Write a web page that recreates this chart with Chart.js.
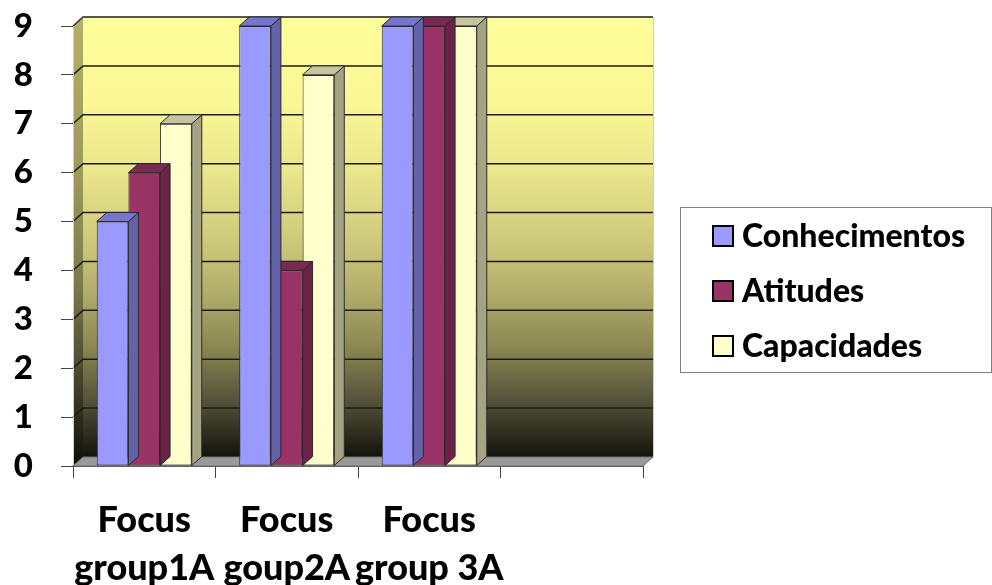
<!DOCTYPE html>
<html>
<head>
<meta charset="utf-8">
<script src="https://cdn.jsdelivr.net/npm/chart.js@4.4.1/dist/chart.umd.min.js"></script>
<style>
  html, body { margin: 0; padding: 0; background: #ffffff; }
  #wrap { width: 992px; height: 585px; }
</style>
</head>
<body>
<div id="wrap"><canvas id="c" width="992" height="585"></canvas></div>
<script>
// Categories (the fourth slot is intentionally empty)
const categories = [['Focus', 'group1A'], ['Focus', 'goup2A'], ['Focus', 'group 3A'], ''];
const seriesNames = ['Conhecimentos', 'Atitudes', 'Capacidades'];
const conhecimentos = [5, 9, 9, null];
const atitudes = [6, 4, 9, null];
const capacidades = [7, 8, 9, null];
const yTickValues = [0, 1, 2, 3, 4, 5, 6, 7, 8, 9];

// Face colours for the pseudo-3D columns: front, top, side
const faceColors = [
  { front: '#9999FF', top: '#7676CC', side: '#6262A6' },
  { front: '#993366', top: '#7A2952', side: '#6B2448' },
  { front: '#FFFFCC', top: '#C4C4A0', side: '#A4A482' }
];

// Depth offset of the 3D box
const DX = 10;
const DY = -9;
const FONT = 'Lato, "Open Sans", "DejaVu Sans", sans-serif';
const WEIGHT = 900;

function poly(ctx, pts, fill, stroke, lw) {
  ctx.beginPath();
  ctx.moveTo(pts[0][0], pts[0][1]);
  for (let i = 1; i < pts.length; i++) ctx.lineTo(pts[i][0], pts[i][1]);
  ctx.closePath();
  if (fill) { ctx.fillStyle = fill; ctx.fill(); }
  if (stroke) { ctx.strokeStyle = stroke; ctx.lineWidth = lw || 1; ctx.stroke(); }
}

// Back wall, side wall, floor and wall gridlines
const wallsPlugin = {
  id: 'walls',
  beforeDatasetsDraw(chart) {
    const ctx = chart.ctx;
    const xs = chart.scales.x, ys = chart.scales.y;
    const L = xs.left, R = xs.right;
    const yTop = ys.getPixelForValue(ys.max);
    const yBot = ys.getPixelForValue(ys.min);
    ctx.save();

    // back wall
    const g = ctx.createLinearGradient(0, yTop + DY, 0, yBot + DY);
    g.addColorStop(0.0, '#FEFE9A');
    g.addColorStop(0.2, '#F9F794');
    g.addColorStop(0.35, '#E9E68C');
    g.addColorStop(0.5, '#CFCB7C');
    g.addColorStop(0.62, '#B3AF6C');
    g.addColorStop(0.75, '#8A8753');
    g.addColorStop(0.87, '#55533A');
    g.addColorStop(1.0, '#14130C');
    ctx.fillStyle = g;
    ctx.fillRect(L + DX, yTop + DY, R - L, yBot - yTop);

    // side wall
    const g2 = ctx.createLinearGradient(0, yTop, 0, yBot);
    g2.addColorStop(0.0, '#B2AF6C');
    g2.addColorStop(0.35, '#9C9959');
    g2.addColorStop(0.6, '#7A774A');
    g2.addColorStop(0.8, '#46452C');
    g2.addColorStop(1.0, '#0E0E08');
    poly(ctx, [[L, yBot], [L, yTop], [L + DX, yTop + DY], [L + DX, yBot + DY]], g2);

    // gridlines on both walls
    ctx.strokeStyle = '#1C1C14';
    ctx.lineWidth = 1.5;
    yTickValues.forEach(v => {
      const y = ys.getPixelForValue(v);
      ctx.beginPath();
      ctx.moveTo(L, y);
      ctx.lineTo(L + DX, y + DY);
      ctx.lineTo(R + DX, y + DY);
      ctx.stroke();
    });

    // wall edges
    ctx.strokeStyle = '#D8D67A';
    ctx.lineWidth = 1;
    ctx.beginPath();
    ctx.moveTo(R + DX + 0.5, yTop + DY);
    ctx.lineTo(R + DX + 0.5, yBot + DY);
    ctx.moveTo(L + 0.5, yTop);
    ctx.lineTo(L + 0.5, yBot);
    ctx.stroke();
    ctx.strokeStyle = '#555555';
    ctx.beginPath();
    ctx.moveTo(L, yTop);
    ctx.lineTo(L + DX, yTop + DY);
    ctx.lineTo(R + DX, yTop + DY);
    ctx.stroke();

    // floor
    poly(ctx, [[L, yBot], [R, yBot], [R + DX, yBot + DY], [L + DX, yBot + DY]], '#9A9A9A', '#6E6E6E', 1);
    ctx.restore();
  }
};

// Top and side faces for each column
const depthPlugin = {
  id: 'depth',
  afterDatasetDraw(chart, args) {
    const ctx = chart.ctx;
    const meta = args.meta;
    const c = faceColors[args.index];
    ctx.save();
    meta.data.forEach((bar, i) => {
      const v = chart.data.datasets[args.index].data[i];
      if (v === null || v === undefined) return;
      const p = bar.getProps(['x', 'y', 'base', 'width'], true);
      const x0 = p.x - p.width / 2, x1 = p.x + p.width / 2;
      poly(ctx, [[x1, p.y], [x1 + DX, p.y + DY], [x1 + DX, p.base + DY], [x1, p.base]], c.side, '#2A2A2A', 1);
      poly(ctx, [[x0, p.y], [x1, p.y], [x1 + DX, p.y + DY], [x0 + DX, p.y + DY]], c.top, '#2A2A2A', 1);
    });
    ctx.restore();
  }
};

// Boxed legend on the right
const boxLegendPlugin = {
  id: 'boxLegend',
  afterDraw(chart) {
    const ctx = chart.ctx;
    ctx.save();
    ctx.strokeStyle = '#808080';
    ctx.lineWidth = 1;
    ctx.strokeRect(680.5, 207.5, 311, 165);
    ctx.font = WEIGHT + ' 32px ' + FONT;
    ctx.textBaseline = 'middle';
    ctx.textAlign = 'left';
    chart.data.datasets.forEach((ds, i) => {
      const cy = 236 + i * 55;
      ctx.fillStyle = ds.backgroundColor;
      ctx.fillRect(713, cy - 10, 20, 20);
      ctx.strokeStyle = '#000000';
      ctx.lineWidth = 2;
      ctx.strokeRect(713, cy - 10, 20, 20);
      ctx.fillStyle = '#000000';
      ctx.fillText(ds.label, 742, cy + 1);
    });
    ctx.restore();
  }
};

const datasets = [conhecimentos, atitudes, capacidades].map((vals, i) => ({
  label: seriesNames[i],
  data: vals,
  backgroundColor: faceColors[i].front,
  borderColor: '#2A2A2A',
  borderWidth: 1,
  borderSkipped: false,
  categoryPercentage: 0.667,
  barPercentage: 1.0
}));

new Chart(document.getElementById('c'), {
  type: 'bar',
  data: { labels: categories, datasets: datasets },
  plugins: [wallsPlugin, depthPlugin, boxLegendPlugin],
  options: {
    responsive: false,
    devicePixelRatio: 1,
    animation: false,
    layout: { padding: { left: 0, top: 26, right: 349, bottom: 0 } },
    plugins: {
      legend: { display: false },
      tooltip: { enabled: false }
    },
    scales: {
      x: {
        offset: true,
        afterFit(scale) { scale.height = 119; },
        grid: { offset: true, drawOnChartArea: false, drawTicks: true, tickLength: 12, color: '#444444' },
        border: { display: true, color: '#555555' },
        ticks: {
          color: '#000000',
          font: { family: FONT, size: 36, weight: WEIGHT, lineHeight: '48px' },
          padding: 18,
          maxRotation: 0,
          autoSkip: false
        }
      },
      y: {
        min: 0,
        max: 9,
        afterFit(scale) {
          scale.width = 73;
          scale.paddingTop = 0;
          scale.paddingBottom = 0;
        },
        grid: { drawOnChartArea: false, drawTicks: true, tickLength: 12, color: '#444444' },
        border: { display: true, color: '#333333' },
        ticks: {
          stepSize: 1,
          color: '#000000',
          padding: 28,
          font: { family: FONT, size: 33, weight: WEIGHT }
        }
      }
    }
  }
});
</script>
</body>
</html>
